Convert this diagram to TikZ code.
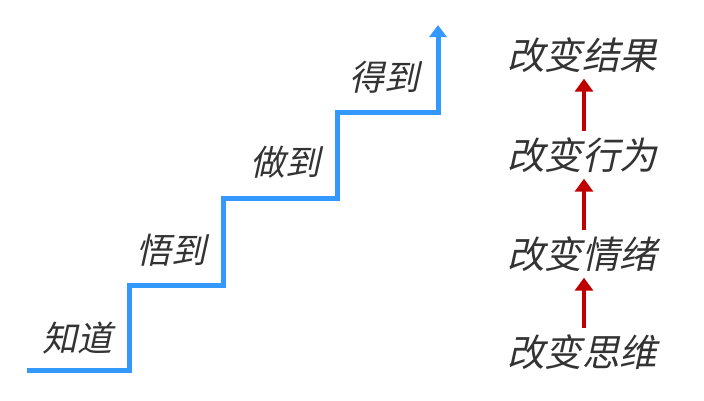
\documentclass[tikz,border=0pt]{standalone}
\usepackage{fontspec}
\newfontfamily\cjk[FakeSlant=0.22]{Noto Sans CJK SC}
\usetikzlibrary{arrows.meta}
\definecolor{stairblue}{HTML}{3399FF}
\definecolor{arrred}{HTML}{C00000}
\definecolor{txt}{HTML}{333333}
\begin{document}
\begin{tikzpicture}[x=1pt,y=-1pt,
  lbl/.style={font=\cjk\fontsize{35}{35}\selectfont, text=txt, inner sep=0pt},
  rlbl/.style={font=\cjk\fontsize{37.5}{37.5}\selectfont, text=txt, inner sep=0pt},
  stair/.style={draw=stairblue, line width=5pt},
  up/.style={draw=arrred, line width=4pt, -{Triangle[width=18pt,length=13pt]}, shorten <=6pt, shorten >=6pt}]
\useasboundingbox (0,0) rectangle (704,400);
% staircase
\coordinate (s0) at (27,370);
\coordinate (s1) at (129,370);
\coordinate (s2) at (129,285);
\coordinate (s3) at (223,285);
\coordinate (s4) at (223,198);
\coordinate (s5) at (337,198);
\coordinate (s6) at (337,112);
\coordinate (s7) at (438,112);
\coordinate (s8) at (438,25);
\draw[stair, line join=miter, -{Triangle[width=17pt,length=12pt]}]
  (s0) -- (s1) -- (s2) -- (s3) -- (s4) -- (s5) -- (s6) -- (s7) -- (s8);
% step labels
\node[lbl] (zhidao) at (77,338) {知道};
\node[lbl] (wudao) at (171,250) {悟到};
\node[lbl] (zuodao) at (285,162) {做到};
\node[lbl] (dedao) at (384,77) {得到};
% right column
\node[rlbl] (jieguo) at (582,55) {改变结果};
\node[rlbl] (xingwei) at (582,155) {改变行为};
\node[rlbl] (qingxu) at (582,254) {改变情绪};
\node[rlbl] (siwei) at (582,352) {改变思维};
\draw[up] (siwei.north -| 584,0) -- (qingxu.south -| 584,0);
\draw[up] (qingxu.north -| 584,0) -- (xingwei.south -| 584,0);
\draw[up] (xingwei.north -| 584,0) -- (jieguo.south -| 584,0);
\end{tikzpicture}
\end{document}
